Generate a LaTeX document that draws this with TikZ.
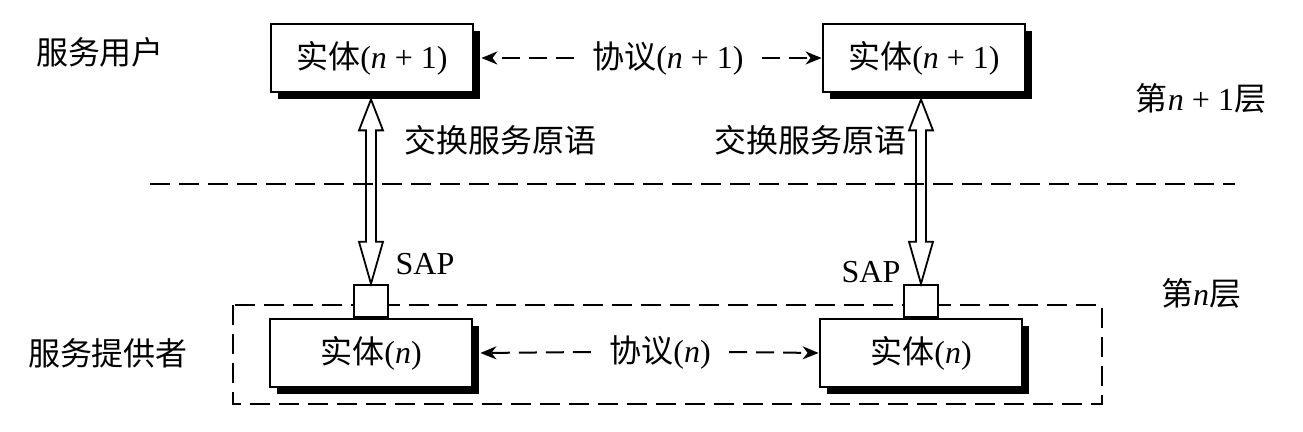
\documentclass[tikz,border=0pt]{standalone}
\usepackage{fontspec}
\setmainfont{Liberation Serif}
\newfontfamily\cjk{Noto Sans CJK SC}
\usetikzlibrary{arrows.meta,shadows,calc}
\begin{document}
\begin{tikzpicture}[x=0.5pt,y=-0.5pt,
  font=\fontsize{16}{19}\selectfont,
  entity/.style={draw=black, line width=1.4pt, fill=white, minimum width=101pt, minimum height=34pt, inner sep=0pt,
     drop shadow={shadow xshift=3.5pt, shadow yshift=-3.3pt, fill=black, opacity=1}},
  sapbox/.style={draw=black, line width=0.9pt, fill=white, minimum width=17pt, minimum height=16pt, inner sep=0pt},
  lbl/.style={inner sep=0pt},
  protolbl/.style={inner xsep=9pt, inner ysep=0pt},
  proto/.style={line width=1pt, dash pattern=on 9pt off 4.5pt, -{Stealth[length=8pt,width=6.5pt,inset=2.5pt]}},
  layerline/.style={line width=1.3pt, dash pattern=on 10pt off 4.5pt},
  layerbox/.style={line width=1pt, dash pattern=on 10pt off 4.5pt},
  dbl/.style={line width=0.9pt, line join=miter}
]
\useasboundingbox (0,0) rectangle (1303,432);

% layer separator and provider frame
\draw[layerline] (150,184) coordinate (sepL) -- (1235,184) coordinate (sepR);
\draw[layerbox] (233,305) rectangle (1102,404);

% entities
\node[entity] (TL) at (372,58) {{\cjk 实体}(\textit{n} + 1)};
\node[entity] (TR) at (924,58) {{\cjk 实体}(\textit{n} + 1)};
\node[entity] (BL) at (371,353) {{\cjk 实体}(\textit{n})};
\node[entity] (BR) at (921,353) {{\cjk 实体}(\textit{n})};

% SAP boxes
\node[sapbox, anchor=south] (SL) at (BL.north) {};
\node[sapbox, anchor=south] (SR) at (BR.north) {};

% protocol labels and arrows
\node[protolbl] (P1) at (668,58) {{\cjk 协议}(\textit{n} + 1)};
\node[protolbl] (P0) at (660,352) {{\cjk 协议}(\textit{n})};
\draw[proto] (P1.west) -- ([xshift=3.5pt]TL.east);
\draw[proto] (P1.east) -- (TR.west);
\draw[proto] (P0.west) -- ([xshift=3.5pt]BL.east);
\draw[proto] (P0.east) -- (BR.west);

% double arrows (service primitives)
\coordinate (AT) at ($(SL.north |- TL.south)+(0,6)$);
\coordinate (AB) at (SL.north);
\draw[dbl] (AT) -- ([shift={(12,31)}]AT) -- ([shift={(5,31)}]AT) -- ([shift={(5,-42)}]AB)
  -- ([shift={(12,-42)}]AB) -- (AB) -- ([shift={(-12,-42)}]AB) -- ([shift={(-5,-42)}]AB)
  -- ([shift={(-5,31)}]AT) -- ([shift={(-12,31)}]AT) -- cycle;
\coordinate (BT) at ($(SR.north |- TR.south)+(0,6)$);
\coordinate (BB) at (SR.north);
\draw[dbl] (BT) -- ([shift={(12,31)}]BT) -- ([shift={(5,31)}]BT) -- ([shift={(5,-42)}]BB)
  -- ([shift={(12,-42)}]BB) -- (BB) -- ([shift={(-12,-42)}]BB) -- ([shift={(-5,-42)}]BB)
  -- ([shift={(-5,31)}]BT) -- ([shift={(-12,31)}]BT) -- cycle;

% labels
\node[lbl] (user) at (100,52) {\cjk 服务用户};
\node[lbl] (prov) at (108,353) {\cjk 服务提供者};
\node[lbl] (Ln1) at (1201,98) {{\cjk 第}\textit{n} + 1{\cjk 层}};
\node[lbl] (Ln) at (1201,293) {{\cjk 第}\textit{n}{\cjk 层}};
\node[lbl] (prim1) at (500,140) {\cjk 交换服务原语};
\node[lbl] (prim2) at (810,140) {\cjk 交换服务原语};
\node[lbl] (sap1) at (425,264) {SAP};
\node[lbl] (sap2) at (871,272) {SAP};
\end{tikzpicture}
\end{document}
